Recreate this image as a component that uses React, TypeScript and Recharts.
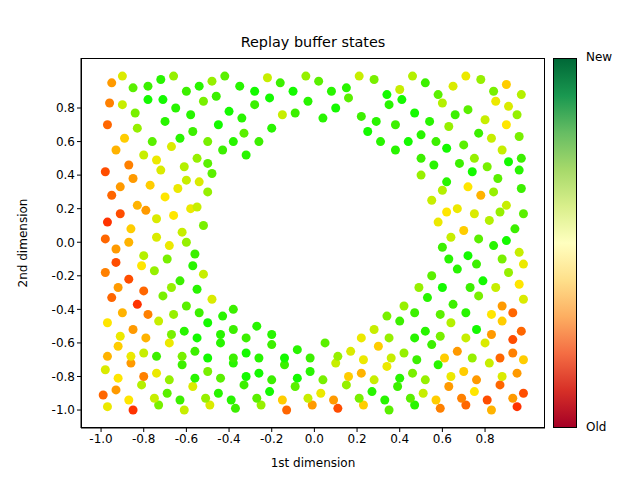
import React from "react";
import { ScatterChart, Scatter, XAxis, YAxis, Cell } from "recharts";

const points: [number, number, number][] = [
[-0.95,0.95,0.3],[-0.85,0.92,0.8],[-0.72,0.97,0.9],[-0.6,0.9,0.85],[-0.48,0.96,0.7],[-0.35,0.93,0.9],[-0.22,0.98,0.6],[-0.1,0.9,0.95],[0.02,0.96,0.8],[0.15,0.92,0.9],[0.28,0.97,0.75],[0.4,0.91,0.6],[0.52,0.95,0.85],[0.65,0.93,0.55],[0.78,0.97,0.7],[0.9,0.94,0.4],[0.97,0.88,0.65],
[-0.9,0.82,0.6],[-0.78,0.85,0.95],[-0.65,0.8,0.9],[-0.52,0.84,0.75],[-0.4,0.78,0.95],[-0.28,0.82,0.85],[-0.15,0.76,0.6],[-0.03,0.84,0.9],[0.1,0.8,0.95],[0.22,0.75,0.85],[0.35,0.82,0.9],[0.47,0.77,0.95],[0.6,0.83,0.65],[0.72,0.79,0.8],[0.85,0.84,0.5],[0.95,0.76,0.7],
[-0.97,0.7,0.2],[-0.83,0.68,0.7],[-0.7,0.72,0.9],[-0.57,0.66,0.85],[-0.45,0.7,0.95],[-0.33,0.65,0.8],[-0.2,0.68,0.9],[0.25,0.66,0.95],[0.38,0.7,0.85],[0.5,0.64,0.9],[0.63,0.69,0.7],[0.77,0.65,0.85],[0.9,0.7,0.45],
[-0.93,0.55,0.35],[-0.8,0.52,0.6],[-0.67,0.57,0.55],[-0.55,0.5,0.7],[-0.43,0.55,0.85],[-0.32,0.52,0.9],[0.38,0.55,0.9],[0.5,0.5,0.85],[0.62,0.56,0.95],[0.75,0.5,0.7],[0.88,0.55,0.6],[0.97,0.5,0.85],
[-0.98,0.42,0.15],[-0.85,0.38,0.3],[-0.72,0.43,0.55],[-0.6,0.37,0.6],[-0.48,0.41,0.8],[0.5,0.4,0.7],[0.62,0.36,0.9],[0.74,0.42,0.95],[0.86,0.38,0.8],[0.96,0.43,0.9],
[-0.95,0.28,0.2],[-0.83,0.22,0.35],[-0.7,0.27,0.45],[-0.58,0.2,0.5],[-0.5,0.3,0.7],[0.55,0.25,0.6],[0.67,0.2,0.5],[0.78,0.28,0.35],[0.9,0.22,0.6],
[-0.97,0.12,0.1],[-0.86,0.08,0.4],[-0.74,0.14,0.55],[-0.62,0.06,0.6],[-0.52,0.1,0.75],[0.58,0.12,0.5],[0.7,0.07,0.4],[0.82,0.13,0.65],[0.94,0.08,0.85],
[-0.93,-0.04,0.3],[-0.8,-0.08,0.65],[-0.68,-0.02,0.5],[-0.56,-0.07,0.85],[0.6,-0.03,0.85],[0.72,-0.08,0.95],[0.84,-0.02,0.9],[0.96,-0.06,0.6],
[-0.98,-0.18,0.25],[-0.87,-0.22,0.15],[-0.75,-0.17,0.7],[-0.63,-0.23,0.85],[-0.52,-0.19,0.6],[0.55,-0.2,0.8],[0.67,-0.16,0.9],[0.79,-0.23,0.95],[0.91,-0.18,0.7],
[-0.95,-0.33,0.2],[-0.83,-0.37,0.1],[-0.71,-0.32,0.75],[-0.6,-0.38,0.8],[-0.48,-0.34,0.55],[-0.38,-0.4,0.85],[0.42,-0.38,0.7],[0.53,-0.33,0.9],[0.65,-0.37,0.85],[0.77,-0.32,0.75],[0.88,-0.38,0.3],[0.98,-0.34,0.55],
[-0.97,-0.48,0.45],[-0.85,-0.52,0.3],[-0.73,-0.47,0.6],[-0.61,-0.53,0.9],[-0.5,-0.48,0.95],[-0.38,-0.52,0.85],[-0.27,-0.5,0.9],[0.28,-0.52,0.6],[0.4,-0.47,0.85],[0.52,-0.53,0.9],[0.64,-0.48,0.65],[0.76,-0.52,0.95],[0.88,-0.47,0.4],[0.97,-0.53,0.2],
[-0.92,-0.62,0.4],[-0.8,-0.66,0.6],[-0.68,-0.6,0.5],[-0.56,-0.65,0.85],[-0.44,-0.6,0.9],[-0.32,-0.66,0.95],[-0.2,-0.61,0.85],[-0.08,-0.64,0.9],[0.05,-0.6,0.8],[0.17,-0.65,0.55],[0.3,-0.62,0.4],[0.42,-0.66,0.7],[0.55,-0.61,0.85],[0.67,-0.65,0.3],[0.8,-0.6,0.55],[0.93,-0.66,0.25],
[-0.98,-0.76,0.55],[-0.86,-0.72,0.3],[-0.74,-0.78,0.5],[-0.62,-0.73,0.85],[-0.5,-0.77,0.75],[-0.38,-0.72,0.9],[-0.26,-0.78,0.95],[-0.14,-0.73,0.85],[-0.02,-0.77,0.9],[0.1,-0.72,0.6],[0.22,-0.78,0.35],[0.34,-0.74,0.5],[0.46,-0.78,0.75],[0.58,-0.73,0.9],[0.7,-0.77,0.4],[0.82,-0.72,0.6],[0.95,-0.78,0.3],
[-0.93,-0.88,0.3],[-0.81,-0.85,0.65],[-0.69,-0.9,0.8],[-0.57,-0.86,0.55],[-0.45,-0.9,0.9],[-0.33,-0.85,0.85],[-0.21,-0.89,0.95],[-0.09,-0.86,0.8],[0.03,-0.9,0.5],[0.15,-0.85,0.7],[0.27,-0.89,0.9],[0.39,-0.86,0.85],[0.51,-0.9,0.6],[0.63,-0.86,0.3],[0.75,-0.89,0.45],[0.87,-0.85,0.2],[0.98,-0.9,0.15],
[-0.97,-0.98,0.5],[-0.85,-1.0,0.1],[-0.73,-0.97,0.75],[-0.61,-1.0,0.6],[-0.49,-0.97,0.55],[-0.37,-0.99,0.85],[-0.25,-0.97,0.7],[-0.13,-1.0,0.2],[-0.01,-0.97,0.3],[0.11,-0.99,0.15],[0.23,-0.97,0.4],[0.35,-1.0,0.8],[0.47,-0.97,0.9],[0.59,-0.99,0.25],[0.71,-0.97,0.2],[0.83,-1.0,0.35],[0.95,-0.98,0.1],
];

const extraPoints: [number, number, number][] = [
[-0.9,0.99,0.55],[-0.78,0.93,0.85],[-0.66,0.99,0.7],[-0.54,0.93,0.9],[-0.42,0.99,0.8],[-0.28,0.9,0.95],[-0.16,0.95,0.85],[-0.04,0.99,0.7],[0.08,0.9,0.9],[0.21,0.99,0.6],[0.34,0.88,0.95],[0.46,0.99,0.65],[0.58,0.88,0.8],[0.71,0.99,0.5],[0.84,0.9,0.75],
[-0.96,0.83,0.25],[-0.84,0.77,0.75],[-0.71,0.85,0.95],[-0.58,0.76,0.9],[-0.46,0.87,0.85],[-0.34,0.74,0.9],[-0.21,0.86,0.95],[-0.09,0.77,0.85],[0.04,0.74,0.9],[0.16,0.86,0.8],[0.29,0.72,0.9],[0.41,0.85,0.95],[0.54,0.72,0.9],[0.66,0.76,0.85],[0.8,0.73,0.6],[0.91,0.81,0.55],
[-0.89,0.62,0.4],[-0.76,0.6,0.8],[-0.63,0.62,0.9],[-0.5,0.6,0.75],[-0.38,0.6,0.9],[-0.26,0.6,0.85],[0.31,0.6,0.9],[0.44,0.6,0.95],[0.57,0.6,0.85],[0.7,0.58,0.8],[0.83,0.62,0.6],[0.96,0.63,0.75],
[-0.87,0.46,0.25],[-0.74,0.49,0.5],[-0.61,0.45,0.65],[-0.5,0.47,0.8],[0.56,0.46,0.9],[0.68,0.47,0.85],[0.81,0.45,0.75],[0.91,0.48,0.95],
[-0.91,0.33,0.3],[-0.77,0.34,0.4],[-0.64,0.32,0.5],[-0.54,0.36,0.55],[0.6,0.31,0.65],[0.72,0.33,0.45],[0.84,0.3,0.7],[0.97,0.32,0.85],
[-0.91,0.17,0.15],[-0.79,0.19,0.3],[-0.66,0.16,0.45],[-0.55,0.21,0.6],[0.62,0.18,0.45],[0.75,0.17,0.55],[0.87,0.18,0.7],[0.98,0.17,0.8],
[-0.98,0.02,0.2],[-0.87,-0.0,0.35],[-0.74,0.03,0.55],[-0.6,-0.0,0.7],[0.64,0.03,0.6],[0.77,0.02,0.8],[0.9,0.01,0.95],
[-0.93,-0.12,0.15],[-0.81,-0.14,0.45],[-0.69,-0.1,0.75],[-0.57,-0.14,0.9],[0.63,-0.1,0.9],[0.76,-0.13,0.85],[0.88,-0.1,0.75],[0.98,-0.13,0.5],
[-0.92,-0.27,0.3],[-0.8,-0.29,0.2],[-0.67,-0.27,0.7],[-0.55,-0.28,0.9],[0.49,-0.27,0.7],[0.6,-0.27,0.95],[0.73,-0.27,0.85],[0.85,-0.27,0.6],[0.96,-0.25,0.45],
[-0.9,-0.42,0.35],[-0.78,-0.43,0.25],[-0.66,-0.43,0.7],[-0.54,-0.42,0.85],[-0.43,-0.44,0.9],[0.34,-0.44,0.75],[0.47,-0.42,0.85],[0.59,-0.43,0.8],[0.71,-0.42,0.9],[0.83,-0.43,0.45],[0.93,-0.42,0.2],
[-0.91,-0.56,0.5],[-0.79,-0.57,0.35],[-0.67,-0.55,0.75],[-0.55,-0.57,0.95],[-0.44,-0.55,0.9],[-0.32,-0.57,0.85],[-0.2,-0.55,0.9],[0.22,-0.57,0.5],[0.35,-0.57,0.7],[0.47,-0.57,0.9],[0.59,-0.56,0.75],[0.71,-0.57,0.6],[0.83,-0.55,0.3],[0.93,-0.58,0.15],
[-0.97,-0.68,0.35],[-0.86,-0.68,0.5],[-0.74,-0.68,0.85],[-0.62,-0.68,0.75],[-0.5,-0.69,0.95],[-0.38,-0.69,0.85],[-0.26,-0.69,0.9],[-0.14,-0.69,0.95],[-0.02,-0.69,0.85],[0.11,-0.68,0.7],[0.23,-0.7,0.5],[0.36,-0.69,0.6],[0.48,-0.7,0.85],[0.61,-0.69,0.4],[0.74,-0.69,0.7],[0.87,-0.69,0.2],[0.98,-0.7,0.4],
[-0.92,-0.81,0.45],[-0.8,-0.8,0.25],[-0.68,-0.82,0.7],[-0.56,-0.81,0.9],[-0.44,-0.81,0.8],[-0.32,-0.8,0.95],[-0.2,-0.82,0.85],[-0.08,-0.81,0.95],[0.04,-0.82,0.75],[0.16,-0.8,0.4],[0.28,-0.82,0.6],[0.4,-0.81,0.9],[0.52,-0.82,0.7],[0.64,-0.8,0.5],[0.76,-0.82,0.3],[0.88,-0.8,0.55],
[-0.99,-0.91,0.2],[-0.87,-0.94,0.45],[-0.75,-0.93,0.6],[-0.63,-0.94,0.85],[-0.51,-0.93,0.7],[-0.39,-0.94,0.9],[-0.27,-0.93,0.8],[-0.15,-0.94,0.4],[-0.03,-0.93,0.6],[0.09,-0.94,0.3],[0.21,-0.93,0.75],[0.33,-0.94,0.9],[0.45,-0.93,0.8],[0.57,-0.94,0.4],[0.69,-0.93,0.25],[0.81,-0.94,0.15],[0.93,-0.93,0.3],
];

const xTicks = [-1.0, -0.8, -0.6, -0.4, -0.2, 0.0, 0.2, 0.4, 0.6, 0.8];
const yTicks = [-1.0, -0.8, -0.6, -0.4, -0.2, 0.0, 0.2, 0.4, 0.6, 0.8];

const stops: [number, number[]][] = [
  [0, [255, 0, 0]], [0.25, [255, 128, 0]], [0.45, [255, 230, 0]],
  [0.65, [180, 240, 0]], [0.85, [60, 240, 0]], [1, [0, 255, 0]],
];
function color(c: number) {
  for (let i = 1; i < stops.length; i++) {
    if (c <= stops[i][0]) {
      const [a, ca] = stops[i - 1], [b, cb] = stops[i];
      const t = (c - a) / (b - a);
      const m = ca.map((v, k) => Math.round(v + (cb[k] - v) * t));
      return `rgb(${m.join(",")})`;
    }
  }
  return "rgb(0,255,0)";
}

const data = [...points, ...extraPoints].map(([x, y, c]) => ({ x, y, c }));
const font = "DejaVu Sans";
const tick = { fill: "#000", fontSize: 12, fontFamily: font };

export default function App() {
  return (
    <div style={{ position: "fixed", left: 0, top: 0, width: 640, height: 480, background: "#fff", fontFamily: font }}>
      <div style={{ position: "absolute", top: 34, left: 81, width: 464, textAlign: "center", fontSize: 14.4 }}>Replay buffer states</div>
      <ScatterChart width={640} height={480} margin={{ top: 58, right: 95, bottom: 22, left: 31 }}>
        <XAxis type="number" dataKey="x" domain={[-1.094, 1.081]} ticks={xTicks} tickFormatter={(v) => v.toFixed(1)}
          tick={tick} tickSize={4} stroke="#000" height={30} allowDataOverflow
          label={{ value: "1st dimension", position: "insideBottom", offset: -9, fill: "#000", fontSize: 12, fontFamily: font }} />
        <YAxis type="number" dataKey="y" domain={[-1.107, 1.098]} ticks={yTicks} tickFormatter={(v) => v.toFixed(1)}
          tick={tick} tickSize={4} stroke="#000" width={50} allowDataOverflow
          label={{ value: "2nd dimension", angle: -90, position: "insideLeft", offset: -8, fill: "#000", fontSize: 12, fontFamily: font, style: { textAnchor: "middle" } }} />
        <Scatter data={data} isAnimationActive={false} shape={(p: any) => <circle cx={p.cx} cy={p.cy} r={4.5} fill={p.fill} />}>
          {data.map((d, i) => <Cell key={i} fill={color(d.c)} />)}
        </Scatter>
      </ScatterChart>
      <div style={{ position: "absolute", left: 81, top: 58, width: 464, height: 370, border: "1px solid #000", boxSizing: "border-box", pointerEvents: "none" }} />
      <div style={{ position: "absolute", left: 553, top: 58, width: 24, height: 370, border: "1px solid #000", boxSizing: "border-box",
        background: "linear-gradient(to top, #a50026, #d73027, #f46d43, #fdae61, #fee08b, #ffffbf, #d9ef8b, #a6d96a, #66bd63, #1a9850, #006837)" }} />
      <div style={{ position: "absolute", left: 586, top: 50, fontSize: 12 }}>New</div>
      <div style={{ position: "absolute", left: 586, top: 420, fontSize: 12 }}>Old</div>
    </div>
  );
}
